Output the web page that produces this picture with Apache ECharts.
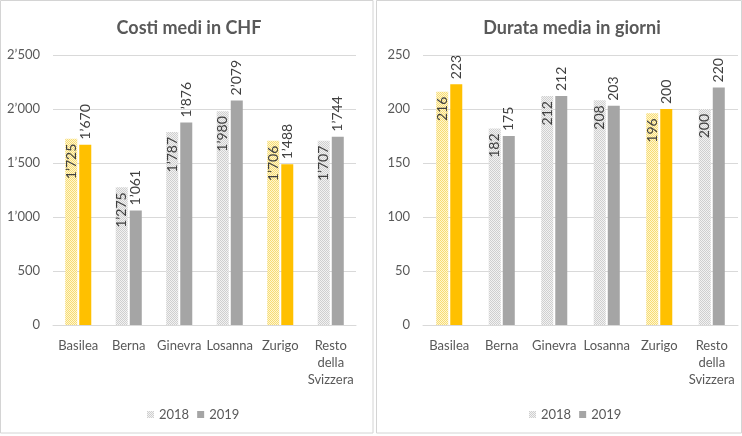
<!DOCTYPE html>
<html>
<head>
<meta charset="utf-8">
<script src="https://cdn.jsdelivr.net/npm/echarts@6/dist/echarts.min.js"></script>
<style>html,body{margin:0;padding:0;background:#fff;}#c{width:742px;height:436px;}</style>
</head>
<body>
<div id="c"></div>
<script>
const categories = ['Basilea', 'Berna', 'Ginevra', 'Losanna', 'Zurigo', 'Resto\ndella\nSvizzera'];
const highlighted = ['Basilea', 'Zurigo'];
const years = ['2018', '2019'];
const costs2018 = [1725, 1275, 1787, 1980, 1706, 1707];
const costs2019 = [1670, 1061, 1876, 2079, 1488, 1744];
const days2018 = [216, 182, 212, 208, 196, 200];
const days2019 = [223, 175, 212, 203, 200, 220];
const costTicks = [0, 500, 1000, 1500, 2000, 2500];
const dayTicks = [0, 50, 100, 150, 200, 250];
const titles = ['Costi medi in CHF', 'Durata media in giorni'];

function makePattern(bg, dot) {
  const c = document.createElement('canvas');
  c.width = 2; c.height = 2;
  const g = c.getContext('2d');
  g.fillStyle = bg; g.fillRect(0, 0, 2, 2);
  g.fillStyle = dot;
  g.fillRect(0, 0, 1, 1); g.fillRect(1, 1, 1, 1);
  return { image: c, repeat: 'repeat' };
}
const gray19 = '#A5A5A5';
const yellow19 = '#FFC000';
const gray18 = makePattern('#f2f2f2', '#cfcfcf');
const yellow18 = makePattern('#fff6d0', '#f7dc74');

function fmt(v) {
  return String(v).replace(/\B(?=(\d{3})+(?!\d))/g, '\u2019');
}
function isHi(i) { return highlighted.indexOf(categories[i]) >= 0; }

const FONT = 'Lato';
const txt = '#595959';

function barSeries(values, year, gi) {
  const is18 = year === '2018';
  return {
    name: year,
    type: 'bar',
    xAxisIndex: gi, yAxisIndex: gi,
    barWidth: 12,
    barGap: '17%',
    itemStyle: { color: is18 ? gray18 : gray19 },
    data: values.map((v, i) => ({
      value: v,
      itemStyle: { color: isHi(i) ? (is18 ? yellow18 : yellow19) : (is18 ? gray18 : gray19) }
    })),
    label: {
      show: true,
      rotate: 90,
      position: is18 ? 'insideTop' : 'top',
      align: is18 ? 'right' : 'left',
      verticalAlign: 'middle',
      distance: 5,
      color: '#404040',
      fontFamily: FONT,
      fontSize: 14,
      formatter: p => fmt(p.value)
    }
  };
}

const grids = [
  { left: 53, width: 303, top: 55, height: 270 },
  { left: 423, width: 315, top: 55, height: 270 }
];
const ticksArr = [costTicks, dayTicks];

const chart = echarts.init(document.getElementById('c'), null, { renderer: 'canvas' });
chart.setOption({
  backgroundColor: '#fff',
  animation: false,
  graphic: [
    { type: 'rect', shape: { x: 0.5, y: 0.5, width: 372.5, height: 432.5 }, style: { fill: 'none', stroke: '#d4d4d4', lineWidth: 1 } },
    { type: 'rect', shape: { x: 376.5, y: 0.5, width: 365, height: 432.5 }, style: { fill: 'none', stroke: '#d4d4d4', lineWidth: 1 } }
  ],
  title: [
    { text: titles[0], left: 184, top: 14, textAlign: 'center', textStyle: { fontFamily: FONT, fontSize: 18, fontWeight: 'bold', color: txt } },
    { text: titles[1], left: 567, top: 14, textAlign: 'center', textStyle: { fontFamily: FONT, fontSize: 18, fontWeight: 'bold', color: txt } }
  ],
  legend: [
    { data: years, left: 142, top: 403, itemWidth: 7, itemHeight: 7, itemGap: 8, icon: 'rect',
      textStyle: { fontFamily: FONT, fontSize: 13, color: txt } },
    { data: years, left: 524, top: 403, itemWidth: 7, itemHeight: 7, itemGap: 8, icon: 'rect',
      textStyle: { fontFamily: FONT, fontSize: 13, color: txt } }
  ],
  grid: grids,
  xAxis: grids.map((g, gi) => ({
    type: 'category', gridIndex: gi, data: categories,
    axisLine: { lineStyle: { color: '#d9d9d9' } },
    axisTick: { show: false },
    axisLabel: { interval: 0, margin: 12, fontFamily: FONT, fontSize: 13, color: txt, lineHeight: 17 }
  })),
  yAxis: grids.map((g, gi) => ({
    type: 'value', gridIndex: gi,
    min: ticksArr[gi][0], max: ticksArr[gi][ticksArr[gi].length - 1],
    interval: ticksArr[gi][1] - ticksArr[gi][0],
    axisLine: { show: false }, axisTick: { show: false },
    splitLine: { lineStyle: { color: '#d9d9d9' } },
    axisLabel: { margin: 13, fontFamily: FONT, fontSize: 13, color: txt, formatter: v => fmt(v) }
  })),
  series: [
    barSeries(costs2018, '2018', 0),
    barSeries(costs2019, '2019', 0),
    barSeries(days2018, '2018', 1),
    barSeries(days2019, '2019', 1)
  ]
});
</script>
</body>
</html>
